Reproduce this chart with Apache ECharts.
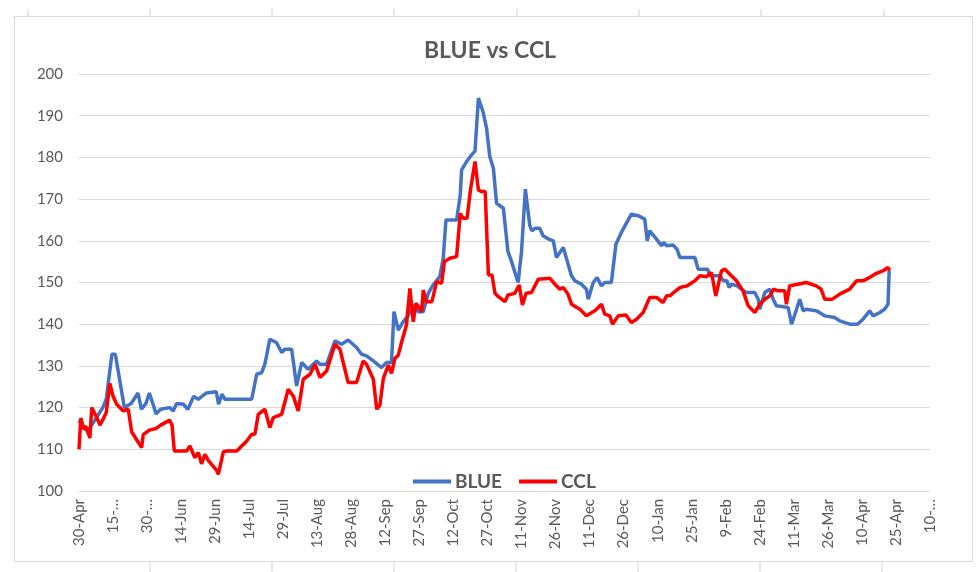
<!DOCTYPE html>
<html>
<head>
<meta charset="utf-8">
<title>BLUE vs CCL</title>
<script src="https://cdn.jsdelivr.net/npm/echarts@6/dist/echarts.min.js"></script>
<style>
  html, body { margin: 0; padding: 0; background: #fff; }
  #chart { width: 980px; height: 572px; }
</style>
</head>
<body>
<div id="chart"></div>
<script>
// x = days since 30-Apr (2020), tick every 15 days
var tickLabels = ['30-Apr', '15-…', '30-…', '14-Jun', '29-Jun', '14-Jul', '29-Jul', '13-Aug', '28-Aug',
  '12-Sep', '27-Sep', '12-Oct', '27-Oct', '11-Nov', '26-Nov', '11-Dec', '26-Dec', '10-Jan', '25-Jan',
  '9-Feb', '24-Feb', '11-Mar', '26-Mar', '10-Apr', '25-Apr', '10-…'];

var blueDays = [0, 2, 4, 7, 10.5, 12, 14.5, 16, 20, 23, 26, 27.5, 29.5, 31, 34, 36, 40, 41.5, 43, 46, 48,
  50.5, 52.5, 56, 60.5, 61.5, 63, 64.3, 76.1, 78.3, 80.5, 81.9, 84.1, 87, 89.3, 90.7, 93.7, 95.9, 98.1,
  101, 104.7, 106.2, 109.1, 112.8, 115.7, 118.6, 122.3, 124.5, 126.7, 129.7, 133.3, 135.5, 137.7, 138.8,
  140.7, 142.9, 145, 147.3, 149.5, 151.7, 153.9, 156, 159, 160.5, 161.7, 166.4, 168, 168.6, 170.8, 173,
  174.5, 176, 178, 179.6, 181, 182.6, 184, 187, 189, 190.6, 193.5, 195, 196.7, 198.6, 199.5, 201, 203,
  204.5, 207, 209, 210.4, 213.4, 217, 218.5, 221.4, 223.6, 224.4, 226.6, 228.3, 230.2, 231.7, 234.6,
  236.6, 239, 243.4, 246.5, 249.3, 250.4, 251.5, 254.5, 256.7, 257.7, 259, 261.8, 263.5, 264.8, 271.4,
  272.8, 277, 278, 282.4, 284, 285.5, 286.5, 287.5, 290, 291.9, 294, 297.8, 299.3, 300, 302.2, 304.4,
  305.9, 307.3, 312.5, 314, 316.2, 317.6, 319.1, 320.5, 325, 328.6, 333, 335.2, 339.6, 343, 345.5, 348.4,
  349.9, 352.9, 355, 356.5, 357];
var blueValues = [117, 115, 114.5, 117, 120, 122, 132.8, 132.8, 120, 121, 123.5, 119.6, 121, 123.5, 118.5,
  119.6, 120, 119.2, 121, 120.8, 119.6, 122.7, 122, 123.5, 123.8, 120.8, 123.2, 122, 122, 128, 128.4,
  130.4, 136.4, 135.6, 133.2, 134, 134, 125.2, 130.8, 129.2, 131.2, 130.4, 130.4, 136, 135.2, 136.2,
  134.4, 132.8, 132.4, 131.2, 129.6, 130.8, 130.8, 143, 138.6, 140.6, 142, 144.6, 143, 143, 147.4, 149.4,
  151.4, 155.8, 165, 165, 171, 177, 179, 180.6, 181.5, 194.2, 191, 187, 180.2, 177.4, 169, 167.8, 157.5,
  155, 150, 157.4, 172.4, 163.8, 162.4, 163, 163, 161.2, 160.4, 160, 156, 158.4, 151.6, 150.4, 149.6,
  148.4, 146, 150, 151.2, 149.2, 150, 150, 159.2, 162, 166.4, 166, 165.2, 160, 162.4, 160.4, 158.8, 159.6,
  158.8, 159, 158, 156, 156, 153.2, 153.2, 151.6, 151.6, 150.4, 150.4, 148.8, 149.6, 149.2, 148.4, 147.6,
  147.6, 146, 143.6, 147.6, 148.4, 146, 144.4, 144, 140, 143.6, 146, 143.2, 143.6, 143.2, 142, 141.6,
  140.8, 140, 140, 141.2, 143.2, 142, 142.8, 143.6, 144.8, 152.8];

var cclDays = [0, 0.8, 2, 3, 4.8, 5.6, 7.8, 9.2, 10.7, 12, 13.6, 15, 16.6, 19.5, 21.7, 23.2, 25.4, 27.6,
  28.3, 31, 34, 36, 40, 41, 42, 47.4, 48.9, 51, 52.6, 54, 55.5, 57, 60.6, 61.4, 63.6, 65.1, 69.5, 73.9,
  76.1, 77.5, 79, 81.9, 84.1, 85.6, 89.3, 92.2, 94.4, 96.6, 98.8, 101.8, 104, 106.2, 109.1, 112.8, 115,
  118.6, 122.3, 125.2, 126.7, 129.7, 131.2, 132.6, 134.1, 136.3, 137.7, 139.2, 140.7, 142.2, 144.3,
  145.8, 147.3, 148.5, 151, 151.7, 153, 155.5, 157.6, 159.8, 161, 163.4, 166.4, 168, 169.3, 171, 172.5,
  174.5, 176, 177.4, 179, 180.4, 182, 183.3, 184.8, 187.7, 189, 192, 194, 195.4, 197, 199.4, 202.4,
  207.5, 209.7, 211.9, 213.4, 215.5, 217, 220.7, 223.6, 227.3, 228.8, 230.2, 231.7, 233.9, 235.1, 237.6,
  241, 243.4, 245.7, 248.6, 251.5, 254.5, 257.4, 258.9, 260.4, 262, 264.8, 268, 271.4, 273.6, 276.5,
  278.7, 280.6, 283.1, 284.6, 287.5, 289.7, 292.6, 294.9, 297.8, 300, 302.2, 304.4, 306.1, 308, 311,
  311.7, 313.2, 315, 320.5, 324.9, 327, 328.6, 332, 335.2, 339.6, 342.6, 345.5, 348.4, 351.4, 354.3,
  356.5, 357.2];
var cclValues = [110, 117.5, 115, 115.5, 112.7, 120, 117.7, 115.8, 117.3, 118.8, 125.8, 122.7, 120.8,
  119.2, 119.6, 114.2, 112.3, 110.4, 113.5, 114.6, 115, 115.8, 117, 115.8, 109.6, 109.6, 110.8, 108,
  109.2, 106.5, 108.8, 107.3, 105, 104, 109.4, 109.6, 109.6, 112, 113.6, 113.6, 118.4, 119.6, 115.2,
  117.6, 118.4, 124.4, 122.8, 119.2, 126.8, 128, 130.4, 127.2, 128.8, 135.2, 134, 126, 126, 131.2, 130.4,
  126.8, 119.6, 120.6, 127, 130.2, 128.2, 131.8, 132.6, 135.8, 139.8, 148.6, 140.6, 145, 143, 148.2,
  145.4, 145.4, 150.2, 149.8, 155, 155.8, 156.2, 166.6, 165.4, 165.4, 172.2, 179, 172.2, 171.8, 171.8,
  151.8, 151.8, 147.4, 146.6, 145.4, 147, 147.4, 149.4, 144.6, 147.4, 147.6, 150.8, 151, 149.6, 148.4,
  148.8, 147.2, 144.8, 143.6, 142, 143.2, 144, 144.8, 142.4, 142, 140, 142, 142.2, 140.4, 141.2, 142.8,
  146.4, 146.4, 145.2, 146.8, 146.8, 147.6, 148.8, 149.2, 150.4, 151.6, 151.4, 152.4, 146.8, 152.8,
  153.2, 151.6, 150.4, 148, 144.4, 142.8, 144.8, 146, 146.8, 148.4, 148, 148, 144.8, 149.2, 149.4, 150,
  149.2, 148.4, 146, 146, 147.2, 148.4, 150.4, 150.4, 151.2, 152.2, 152.8, 153.6, 152.8];

function zip(xs, ys) {
  var out = [];
  for (var i = 0; i < xs.length; i++) out.push([xs[i], ys[i]]);
  return out;
}

var font = 'Lato, "Open Sans", sans-serif';
var grey = '#595959';
var chart = echarts.init(document.getElementById('chart'));

// spreadsheet cell stubs showing round the chart box
var stubs = [];
[28, 150, 272, 394, 517, 639, 761, 884].forEach(function (x) {
  stubs.push({ type: 'line', shape: { x1: x, y1: 9, x2: x, y2: 16 }, style: { stroke: '#d0d0d0', lineWidth: 1 } });
});
[150, 272, 394, 516, 638, 760, 882].forEach(function (x) {
  stubs.push({ type: 'line', shape: { x1: x, y1: 562, x2: x, y2: 572 }, style: { stroke: '#d0d0d0', lineWidth: 1 } });
});

chart.setOption({
  animation: false,
  backgroundColor: '#fff',
  textStyle: { fontFamily: font },
  graphic: [
    { type: 'rect', shape: { x: 14.5, y: 16.5, width: 958, height: 545 }, style: { fill: 'none', stroke: '#d9d9d9', lineWidth: 1 }, z: -1 }
  ].concat(stubs),
  title: {
    text: 'BLUE vs CCL',
    left: 'center',
    top: 34,
    textStyle: { fontFamily: font, fontSize: 23, fontWeight: 'bold', color: grey }
  },
  legend: {
    data: ['BLUE', 'CCL'],
    top: 467,
    left: 408,
    icon: 'rect',
    itemWidth: 38,
    itemHeight: 4,
    itemGap: 17,
    textStyle: { fontFamily: font, fontSize: 19, fontWeight: 'bold', color: grey, padding: [0, 0, 0, -1] }
  },
  grid: { left: 79, right: 50, top: 74, bottom: 81, containLabel: false },
  xAxis: {
    type: 'value',
    min: 0,
    max: 375,
    interval: 15,
    axisLine: { show: true, lineStyle: { color: '#d9d9d9', width: 1 } },
    axisTick: { show: false },
    splitLine: { show: false },
    axisLabel: {
      rotate: 90,
      margin: 8,
      fontSize: 15,
      color: grey,
      fontFamily: font,
      formatter: function (v) { return tickLabels[Math.round(v / 15)] || ''; }
    }
  },
  yAxis: {
    type: 'value',
    min: 100,
    max: 200,
    interval: 10,
    axisLine: { show: false },
    axisTick: { show: false },
    splitLine: { lineStyle: { color: '#d9d9d9', width: 1 } },
    axisLabel: { fontSize: 15, color: grey, margin: 16, fontFamily: font }
  },
  series: [
    {
      name: 'BLUE',
      type: 'line',
      showSymbol: false,
      color: '#4472C4',
      lineStyle: { width: 3.5, color: '#4472C4' },
      data: zip(blueDays, blueValues)
    },
    {
      name: 'CCL',
      type: 'line',
      showSymbol: false,
      color: '#FF0000',
      lineStyle: { width: 3.5, color: '#FF0000' },
      data: zip(cclDays, cclValues)
    }
  ]
});
</script>
</body>
</html>
